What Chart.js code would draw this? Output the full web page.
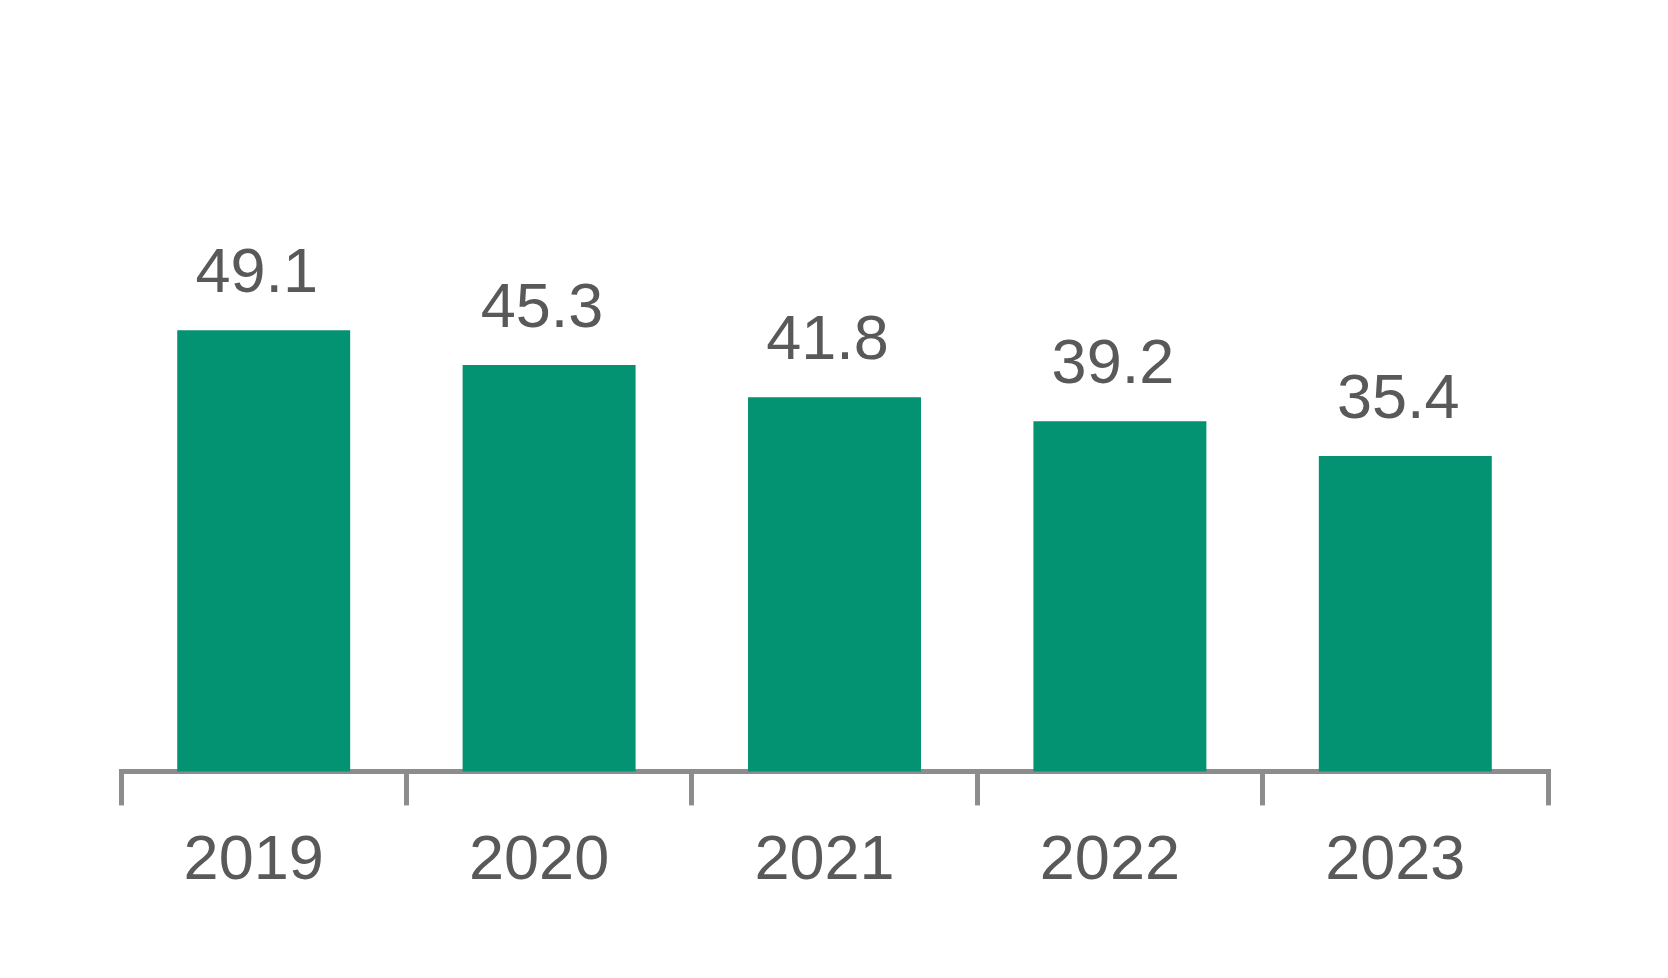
<!DOCTYPE html>
<html>
<head>
<meta charset="utf-8">
<script src="https://cdn.jsdelivr.net/npm/chart.js@4/dist/chart.umd.min.js"></script>
<style>
  html, body { margin: 0; padding: 0; background: #fff; }
  canvas { display: block; }
</style>
</head>
<body>
<canvas id="barChart" width="1668" height="978"></canvas>
<script>
// data
const years = ['2019', '2020', '2021', '2022', '2023'];
const values = [49.1, 45.3, 41.8, 39.2, 35.4];

const textColor = '#595959';
const axisColor = '#8c8c8c';
const barColor = '#039272';

// value labels above each bar
const valueLabels = {
  id: 'valueLabels',
  afterDatasetsDraw(chart) {
    const c = chart.ctx;
    const meta = chart.getDatasetMeta(0);
    c.save();
    c.font = '63px "Liberation Sans", Arial, sans-serif';
    c.fillStyle = textColor;
    c.textAlign = 'center';
    c.textBaseline = 'alphabetic';
    meta.data.forEach((bar, i) => {
      c.fillText(values[i].toFixed(1), bar.x - 7, bar.y - 38);
    });
    c.restore();
  }
};

const ctx = document.getElementById('barChart').getContext('2d');

new Chart(ctx, {
  type: 'bar',
  data: {
    labels: years,
    datasets: [{
      data: values,
      backgroundColor: barColor,
      borderWidth: 0,
      categoryPercentage: 1,
      barPercentage: 0.606
    }]
  },
  options: {
    responsive: false,
    animation: false,
    layout: { padding: { left: 121, right: 120, top: 230, bottom: 60 } },
    plugins: {
      legend: { display: false },
      tooltip: { enabled: false }
    },
    scales: {
      x: {
        z: 1,
        grid: {
          display: true,
          offset: true,
          drawOnChartArea: false,
          drawTicks: true,
          tickLength: 34,
          lineWidth: 5,
          color: axisColor
        },
        border: { display: true, width: 5, color: axisColor },
        ticks: {
          color: textColor,
          padding: 18.5,
          labelOffset: -10,
          font: { family: '"Liberation Sans", Arial, sans-serif', size: 63 }
        }
      },
      y: {
        display: false,
        min: 1.1,
        max: 60
      }
    }
  },
  plugins: [valueLabels]
});
</script>
</body>
</html>
